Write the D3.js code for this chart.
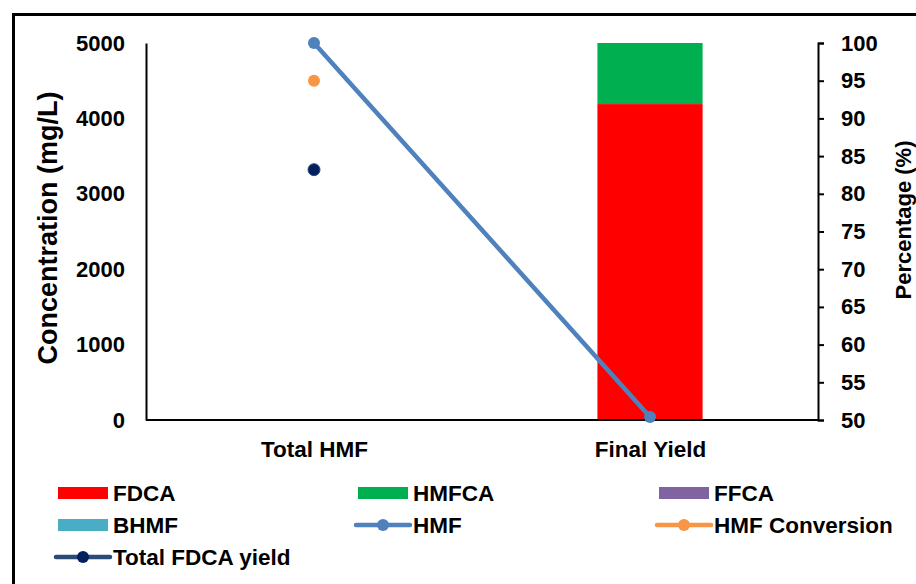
<!DOCTYPE html>
<html lang="en">
<head>
    <meta charset="UTF-8">
    <title>HMF oxidation</title>
    <style>
        body { margin: 0; background: #fff; }
        text { font-family: "Liberation Sans", Arial, sans-serif; font-weight: bold; fill: #000; }
    </style>
</head>
<body>
    <svg width="916" height="584"></svg>
    <script src="https://d3js.org/d3.v7.min.js"></script>
    <script>

        // data
        let categories = ["Total HMF", "Final Yield"],
            fdca = [0, 4190],
            hmfca = [0, 810],
            ffca = [0, 0],
            bhmf = [0, 0],
            hmf = [5000, 40],                 // mg/L, left axis
            hmfConversion = [95, null],       // %, right axis
            totalFdcaYield = [83.2, null],    // %, right axis
            leftTicks = [0, 1000, 2000, 3000, 4000, 5000],
            rightTicks = [50, 55, 60, 65, 70, 75, 80, 85, 90, 95, 100];

        let colors = {
            FDCA: "#ff0000", HMFCA: "#00b050", FFCA: "#8064a2", BHMF: "#4bacc6",
            HMF: "#4f81bd", conv: "#f79646", yield: "#002060", yieldLine: "#2c4a78"
        };

        let svg = d3.select("svg"),
            plotL = 146, plotR = 818, plotT = 43, plotB = 420;

        // outer frame
        svg.append("rect")
            .attr("x", 13.5).attr("y", 14.5)
            .attr("width", 920).attr("height", 620)
            .attr("fill", "none").attr("stroke", "#000").attr("stroke-width", 3);

        let x = d3.scalePoint().domain(categories).range([plotL, plotR]).padding(0.5),
            yL = d3.scaleLinear().domain([0, 5000]).range([plotB, plotT]),
            yR = d3.scaleLinear().domain([50, 100]).range([plotB, plotT]),
            barW = x.step() * 0.313;

        // stacked bars
        let rows = categories.map((c, i) => ({ cat: c, FDCA: fdca[i], HMFCA: hmfca[i], FFCA: ffca[i], BHMF: bhmf[i] }));
        let stack = d3.stack().keys(["FDCA", "HMFCA", "FFCA", "BHMF"])(rows);

        svg.append("g").selectAll("g")
            .data(stack)
            .join("g")
            .attr("fill", d => colors[d.key])
            .selectAll("rect")
            .data(d => d)
            .join("rect")
            .attr("x", d => x(d.data.cat) - barW / 2)
            .attr("width", barW)
            .attr("y", d => yL(d[1]))
            .attr("height", d => yL(d[0]) - yL(d[1]));

        // axes
        let axL = svg.append("g").attr("transform", `translate(${plotL},0)`)
            .call(d3.axisLeft(yL).tickValues(leftTicks).tickFormat(d3.format("d")).tickSize(0).tickPadding(21));
        let axR = svg.append("g").attr("transform", `translate(${plotR},0)`)
            .call(d3.axisRight(yR).tickValues(rightTicks).tickSize(6).tickPadding(17));
        let axB = svg.append("g").attr("transform", `translate(0,${plotB})`)
            .call(d3.axisBottom(x).tickSize(0).tickPadding(21));
        axB.select(".domain").attr("d", `M${plotL},0H${plotR}`);

        [axL, axR, axB].forEach(a => {
            a.select(".domain").attr("stroke", "#000").attr("stroke-width", 2);
            a.selectAll("line").attr("stroke", "#000").attr("stroke-width", 2);
            a.selectAll("text").attr("font-size", 22).attr("font-family", null).attr("fill", "#000");
        });
        axB.selectAll("text").attr("font-size", 22.5);

        // axis titles
        svg.append("text")
            .attr("transform", "translate(48,228) rotate(-90)")
            .attr("text-anchor", "middle").attr("dy", "0.35em")
            .attr("font-size", 27)
            .text("Concentration (mg/L)");
        svg.append("text")
            .attr("transform", "translate(903,220) rotate(-90)")
            .attr("text-anchor", "middle").attr("dy", "0.35em")
            .attr("font-size", 22)
            .text("Percentage (%)");

        // HMF line
        let hmfPts = categories.map((c, i) => [x(c), yL(hmf[i])]);
        svg.append("path")
            .attr("d", d3.line()(hmfPts))
            .attr("fill", "none").attr("stroke", colors.HMF).attr("stroke-width", 4.5);
        svg.append("g").selectAll("circle")
            .data(hmfPts).join("circle")
            .attr("cx", d => d[0]).attr("cy", d => d[1]).attr("r", 6)
            .attr("fill", colors.HMF);

        // percentage points
        svg.append("g").selectAll("circle")
            .data(categories.map((c, i) => [c, hmfConversion[i]]).filter(d => d[1] != null))
            .join("circle")
            .attr("cx", d => x(d[0])).attr("cy", d => yR(d[1])).attr("r", 6)
            .attr("fill", colors.conv);
        svg.append("g").selectAll("circle")
            .data(categories.map((c, i) => [c, totalFdcaYield[i]]).filter(d => d[1] != null))
            .join("circle")
            .attr("cx", d => x(d[0])).attr("cy", d => yR(d[1])).attr("r", 6)
            .attr("fill", colors.yield).attr("stroke", "#2c4a78").attr("stroke-width", 1);

        // legend
        let legend = [
            { name: "FDCA", type: "box", color: colors.FDCA },
            { name: "HMFCA", type: "box", color: colors.HMFCA },
            { name: "FFCA", type: "box", color: colors.FFCA },
            { name: "BHMF", type: "box", color: colors.BHMF },
            { name: "HMF", type: "line", color: colors.HMF, dot: colors.HMF },
            { name: "HMF Conversion", type: "line", color: colors.conv, dot: colors.conv },
            { name: "Total FDCA yield", type: "line", color: colors.yieldLine, dot: colors.yield }
        ];
        let colX = [58, 358, 659], rowY = [493, 525, 557];

        let li = svg.append("g").selectAll("g")
            .data(legend).join("g")
            .attr("transform", (d, i) => `translate(${colX[i % 3]},${rowY[Math.floor(i / 3)]})`);

        li.filter(d => d.type == "box").append("rect")
            .attr("x", 0).attr("y", -6).attr("width", 50).attr("height", 12)
            .attr("fill", d => d.color);
        li.filter(d => d.type == "line").append("line")
            .attr("x1", -2).attr("x2", 52).attr("y1", 0).attr("y2", 0)
            .attr("stroke", d => d.color).attr("stroke-width", 4.5).attr("stroke-linecap", "round");
        li.filter(d => d.type == "line").append("circle")
            .attr("cx", 25).attr("cy", 0).attr("r", 6).attr("fill", d => d.dot);
        li.append("text")
            .attr("x", 55).attr("dy", "0.35em").attr("font-size", 22.5)
            .text(d => d.name);

    </script>
</body>
</html>
